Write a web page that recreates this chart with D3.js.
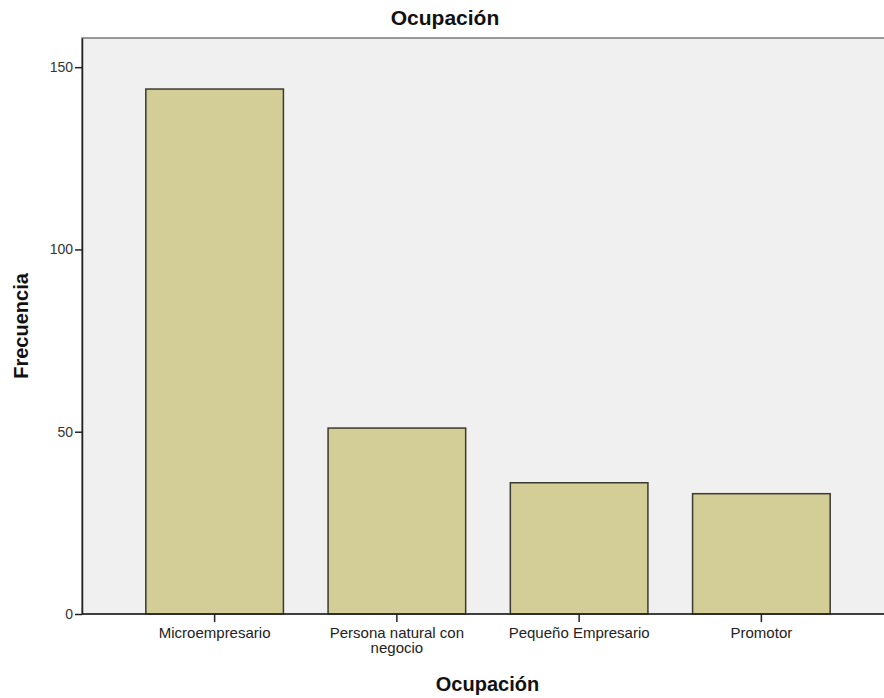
<!DOCTYPE html>
<html>
<head>
<meta charset="utf-8">
<script src="https://cdn.jsdelivr.net/npm/d3@7"></script>
<style>
  body { margin: 0; background: #fff; }
  svg { display: block; font-family: "Liberation Sans", Arial, sans-serif; }
</style>
</head>
<body>
<div id="chart"></div>
<script>
// Chart data
const categories = ['Microempresario', 'Persona natural con negocio', 'Pequeño Empresario', 'Promotor'];
const frequencies = [144, 51, 36, 33];
const yTicks = [0, 50, 100, 150];
const chartTitle = 'Ocupación';
const xTitle = 'Ocupación';
const yTitle = 'Frecuencia';

const width = 884;
const height = 698;
const plot = { left: 82, right: 893, top: 38, bottom: 614 };

const svg = d3.select('#chart')
    .append('svg')
    .attr('width', width)
    .attr('height', height);

// Scales
const xScale = d3.scaleBand()
    .domain(categories)
    .range([plot.left + 41.5, plot.right - 40.5])
    .paddingInner(0.245)
    .paddingOuter(0.1225);

const yScale = d3.scaleLinear()
    .domain([0, 158])
    .range([plot.bottom, plot.top]);

// Plot background
svg.append('rect')
    .attr('x', plot.left)
    .attr('y', plot.top)
    .attr('width', plot.right - plot.left)
    .attr('height', plot.bottom - plot.top)
    .attr('fill', '#f0f0f0')
    .attr('stroke', '#7a7a7a')
    .attr('stroke-width', 1.5);

// Bars
svg.selectAll('rect.bar')
    .data(frequencies)
    .enter()
    .append('rect')
    .attr('class', 'bar')
    .attr('x', (_, i) => xScale(categories[i]))
    .attr('y', (d) => yScale(d))
    .attr('width', xScale.bandwidth())
    .attr('height', (d) => yScale(0) - yScale(d))
    .attr('fill', '#d3ce97')
    .attr('stroke', '#3a3a2e')
    .attr('stroke-width', 1.5);

// Y axis
const yAxis = d3.axisLeft(yScale)
    .tickValues(yTicks)
    .tickSize(7)
    .tickSizeOuter(0)
    .tickPadding(2)
    .tickFormat(d3.format('d'));

const gy = svg.append('g')
    .attr('transform', `translate(${plot.left},0)`)
    .call(yAxis);
gy.select('.domain').attr('stroke', '#222').attr('stroke-width', 1.5);
gy.selectAll('.tick line').attr('stroke', '#222').attr('stroke-width', 1.5);
gy.selectAll('.tick text')
    .attr('fill', '#333')
    .style('font-size', '14px')
    .style('font-family', '"Liberation Sans", Arial, sans-serif');

// X axis
const xAxis = d3.axisBottom(xScale).tickSize(8).tickSizeOuter(0).tickPadding(5);
const gx = svg.append('g')
    .attr('transform', `translate(0,${plot.bottom})`)
    .call(xAxis);
gx.select('.domain').remove();
gx.append('line')
    .attr('x1', plot.left)
    .attr('x2', plot.right)
    .attr('stroke', '#222')
    .attr('stroke-width', 1.5);
gx.selectAll('.tick line').attr('stroke', '#222').attr('stroke-width', 1.5);
gx.selectAll('.tick text')
    .attr('fill', '#222')
    .style('font-size', '15px')
    .style('font-family', '"Liberation Sans", Arial, sans-serif')
    .each(function (d) {
        // wrap long labels onto two lines
        const t = d3.select(this);
        if (d.length > 20) {
            const words = d.split(' ');
            const first = words.slice(0, 3).join(' ');
            const second = words.slice(3).join(' ');
            t.text(null);
            t.append('tspan').attr('x', 0).attr('dy', '0.71em').text(first);
            t.append('tspan').attr('x', 0).attr('dy', '1.05em').text(second);
            t.attr('dy', null);
        }
    });

// Titles
svg.append('text')
    .attr('x', 445)
    .attr('y', 25)
    .attr('text-anchor', 'middle')
    .attr('font-weight', 'bold')
    .attr('font-size', 21)
    .attr('fill', '#111')
    .text(chartTitle);

svg.append('text')
    .attr('x', (plot.left + plot.right) / 2)
    .attr('y', 691)
    .attr('text-anchor', 'middle')
    .attr('font-weight', 'bold')
    .attr('font-size', 20)
    .attr('fill', '#111')
    .text(xTitle);

svg.append('text')
    .attr('transform', 'rotate(-90)')
    .attr('x', -(plot.top + plot.bottom) / 2)
    .attr('y', 28)
    .attr('text-anchor', 'middle')
    .attr('font-weight', 'bold')
    .attr('font-size', 20)
    .attr('fill', '#111')
    .text(yTitle);
</script>
</body>
</html>
